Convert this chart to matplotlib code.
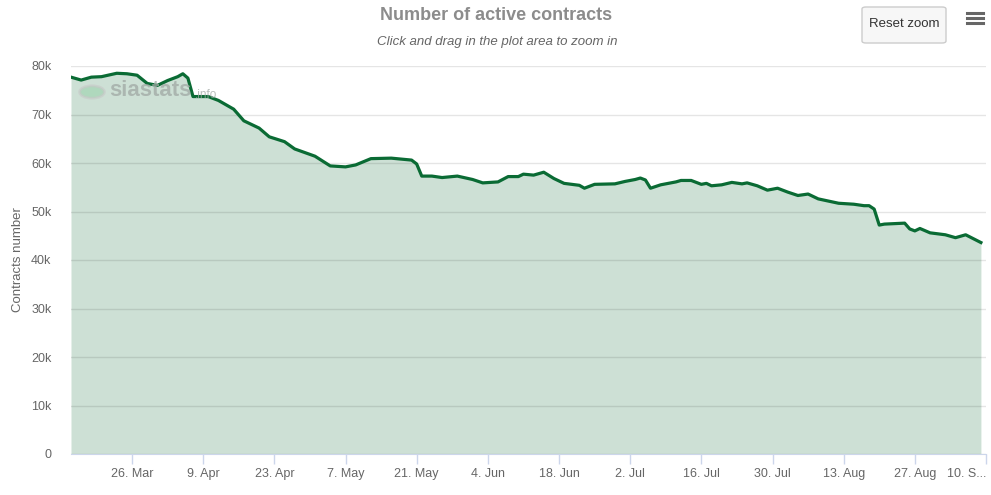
import matplotlib
matplotlib.use("Agg")
import matplotlib.pyplot as plt
import matplotlib.dates as mdates
from matplotlib.ticker import FuncFormatter, MultipleLocator
from matplotlib.patches import FancyBboxPatch, Circle
import pandas as pd

# daily snapshots (2018)
dates = ["2018-03-14", "2018-03-16", "2018-03-18", "2018-03-20", "2018-03-23",
         "2018-03-25", "2018-03-27", "2018-03-29", "2018-03-31", "2018-04-02",
         "2018-04-04", "2018-04-05", "2018-04-06", "2018-04-07", "2018-04-10",
         "2018-04-12", "2018-04-15", "2018-04-17", "2018-04-20", "2018-04-22",
         "2018-04-25", "2018-04-27", "2018-05-01", "2018-05-04", "2018-05-07",
         "2018-05-09", "2018-05-12", "2018-05-16", "2018-05-20", "2018-05-21",
         "2018-05-22", "2018-05-24", "2018-05-26", "2018-05-29", "2018-06-01",
         "2018-06-03", "2018-06-06", "2018-06-08", "2018-06-10", "2018-06-11",
         "2018-06-13", "2018-06-15", "2018-06-17", "2018-06-19", "2018-06-22",
         "2018-06-23", "2018-06-25", "2018-06-29", "2018-07-01", "2018-07-03",
         "2018-07-04", "2018-07-05", "2018-07-06", "2018-07-08", "2018-07-11",
         "2018-07-12", "2018-07-14", "2018-07-16", "2018-07-17", "2018-07-18",
         "2018-07-20", "2018-07-22", "2018-07-24", "2018-07-25", "2018-07-27",
         "2018-07-29", "2018-07-31", "2018-08-02", "2018-08-04", "2018-08-06",
         "2018-08-08", "2018-08-12", "2018-08-15", "2018-08-17", "2018-08-18",
         "2018-08-19", "2018-08-20", "2018-08-21", "2018-08-25", "2018-08-26",
         "2018-08-27", "2018-08-28", "2018-08-30", "2018-09-02", "2018-09-04",
         "2018-09-06", "2018-09-09"]
contracts = [77700, 77100, 77700, 77800, 78500,
             78400, 78100, 76400, 76000, 77000,
             77800, 78400, 77500, 73700, 73700,
             72900, 71100, 68700, 67200, 65400,
             64400, 62900, 61400, 59400, 59200,
             59600, 60900, 61000, 60600, 59800,
             57300, 57300, 57000, 57300, 56600,
             55900, 56100, 57200, 57200, 57700,
             57500, 58100, 56800, 55800, 55400,
             54800, 55600, 55700, 56200, 56600,
             56900, 56500, 54800, 55500, 56100,
             56400, 56400, 55600, 55800, 55300,
             55500, 56000, 55700, 55900, 55300,
             54400, 54800, 54000, 53300, 53600,
             52600, 51700, 51500, 51200, 51200,
             50500, 47200, 47400, 47600, 46400,
             46000, 46500, 45600, 45200, 44600,
             45200, 43600]

title = "Number of active contracts"
subtitle = "Click and drag in the plot area to zoom in"
y_label = "Contracts number"

x = pd.to_datetime(dates)

plt.rcParams['font.family'] = ['Liberation Sans', 'DejaVu Sans']

W, H = 991, 495
fig = plt.figure(figsize=(W / 100, H / 100), dpi=100)
fig.patch.set_facecolor("white")

def fx(px):
    return px / W

def fy(py):
    return 1 - py / H

ax = fig.add_axes([fx(71), fy(454), fx(986) - fx(71), fy(66) - fy(454)])
ax.fill_between(x, contracts, 0, color="#cde0d5", lw=0, zorder=1)
ax.plot(x, contracts, color="#0a6b34", lw=2.3, zorder=3, solid_joinstyle="round")

ax.set_xlim(pd.Timestamp("2018-03-14"), pd.Timestamp("2018-09-10"))
ax.set_ylim(0, 80000)

# grid drawn over the fill, so it looks darker inside the area
ax.yaxis.set_major_locator(MultipleLocator(10000))
ax.yaxis.grid(True, color="black", alpha=0.1, lw=1, zorder=2)
ax.set_axisbelow(False)
ax.yaxis.set_major_formatter(FuncFormatter(lambda v, p: "0" if v == 0 else "%dk" % (v / 1000)))

ax.xaxis.set_major_locator(mdates.WeekdayLocator(byweekday=mdates.MO, interval=2))
def xfmt(v, p):
    d = mdates.num2date(v)
    if d.month == 9 and d.day == 10:
        return "10. S..."
    return "%d. %s" % (d.day, d.strftime("%b"))
ax.xaxis.set_major_formatter(FuncFormatter(xfmt))

for s in ["top", "right", "left"]:
    ax.spines[s].set_visible(False)
ax.spines["bottom"].set_color("#ccd6eb")
ax.spines["bottom"].set_zorder(4)
ax.tick_params(axis="x", length=7, width=1, color="#ccd6eb", labelcolor="#666666",
               labelsize=9, pad=3)
ax.tick_params(axis="y", length=0, labelcolor="#666666", labelsize=9, pad=14)

fig.canvas.draw()
labels = ax.get_xticklabels()
if labels and labels[-1].get_text().startswith("10."):
    labels[-1].set_ha("right")

fig.text(fx(18), fy(260), y_label, rotation=90, ha="center", va="center",
         color="#666666", fontsize=9.5)

# title block
fig.text(fx(496), fy(16), title, ha="center", va="center", fontsize=13,
         fontweight="bold", color="#8c8c8c")
fig.text(fx(497), fy(42), subtitle, ha="center", va="center", fontsize=9.5,
         style="italic", color="#666666")

# reset zoom button
btn = FancyBboxPatch((fx(862), fy(43)), fx(946) - fx(862), fy(7) - fy(43),
                     boxstyle="round,pad=0,rounding_size=0.004",
                     transform=fig.transFigure, facecolor="#f7f7f7",
                     edgecolor="#cccccc", lw=1)
fig.patches.append(btn)
fig.text(fx(904), fy(24), "Reset zoom", ha="center", va="center", fontsize=9.5,
         color="#333333")

# menu icon
for yy in (13, 18, 23):
    fig.add_artist(plt.Line2D([fx(967), fx(983)], [fy(yy), fy(yy)],
                              transform=fig.transFigure, color="#666666", lw=2.2))

# watermark
fig.add_artist(Circle((fx(92), fy(92)), 0.0125, transform=fig.transFigure,
                      facecolor="#9bd3ad", edgecolor="#c8c8c8", lw=2, alpha=0.6))
fig.text(fx(109), fy(91), "siastats", ha="left", va="center", fontsize=16,
         fontweight="bold", color="#a0a8a4", alpha=0.75)
fig.text(fx(195), fy(95), ".info", ha="left", va="center", fontsize=8.5,
         color="#a0a8a4", alpha=0.75)

fig.savefig("out.png", dpi=100)
